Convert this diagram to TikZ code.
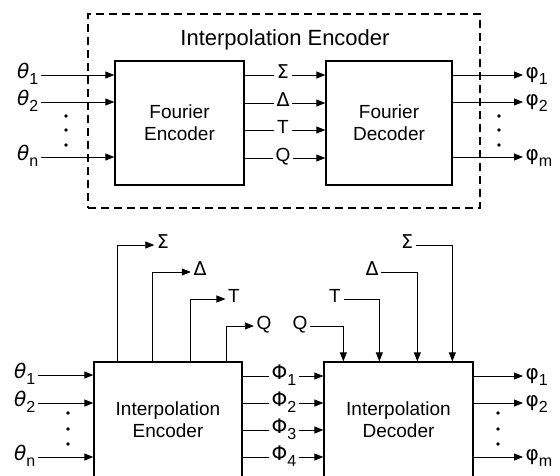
\documentclass[tikz,border=0pt]{standalone}
\usepackage{fontspec}
\setmainfont{Liberation Sans}
\newfontfamily\grk{DejaVu Sans}
\usetikzlibrary{arrows.meta,positioning,calc}
% Greek letter (slanted or upright) with a sans subscript
\newcommand{\gsl}[2]{{\grk\itshape #1}\raisebox{-0.3em}{\fontsize{16}{16}\selectfont #2}}
\newcommand{\gup}[2]{{\grk #1}\raisebox{-0.3em}{\fontsize{16}{16}\selectfont #2}}

\begin{document}
\begin{tikzpicture}[
  x=1pt, y=-1pt,
  every node/.style={font=\fontsize{19}{22}\selectfont},
  block/.style={draw, line width=1.3pt, align=center, inner sep=0pt},
  sig/.style={text height=0.7em, text depth=0pt, inner sep=2.5pt},
  big/.style={font=\fontsize{20}{24}\selectfont},
  arrow/.style={-{Triangle[length=9pt,width=7pt]}, line width=0.8pt},
  wire/.style={line width=0.8pt}
]
  \clip (0,0) rectangle (560,475);
  % upper diagram
  \node[draw, line width=1.1pt, dash pattern=on 8pt off 5pt, minimum width=392pt, minimum height=194pt, inner sep=0pt] (frame) at (284,111) {};
  \node[font=\fontsize{22}{26}\selectfont] (title) at (285,40) {Interpolation Encoder};
  \node[block, minimum width=129pt, minimum height=124pt] (fenc) at (179.5,123) {Fourier\\Encoder};
  \node[block, minimum width=126pt, minimum height=124pt] (fdec) at (389,123) {Fourier\\Decoder};
  \node[sig, big, anchor=east] (th1) at (41,75) {\gsl{θ}{1}};
  \node[sig, big, anchor=east] (th2) at (41,102) {\gsl{θ}{2}};
  \node[sig, big, anchor=east] (thn) at (41,157) {\gsl{θ}{n}};
  \foreach \t in {th1,th2,thn} \draw[arrow] (\t) -- (\t -| fenc.west);
  \node[sig] (sg) at (283,75) {\grk Σ};
  \node[sig] (dl) at (283,103) {\grk Δ};
  \node[sig] (tt) at (283,130) {T};
  \node[sig] (qq) at (283,158) {Q};
  \foreach \s in {sg,dl,tt,qq} {
    \draw[wire] (\s -| fenc.east) -- (\s);
    \draw[arrow] (\s) -- (\s -| fdec.west);
  }
  \node[sig, big, anchor=west] (ph1) at (523,75) {\gup{φ}{1}};
  \node[sig, big, anchor=west] (ph2) at (523,102) {\gup{φ}{2}};
  \node[sig, big, anchor=west] (phm) at (523,157) {\gup{φ}{m}};
  \foreach \p in {ph1,ph2,phm} \draw[arrow] (\p -| fdec.east) -- (\p);
  \foreach \y in {116,130,145} {
    \fill (66,\y) circle (1.8pt);
    \fill (499,\y) circle (1.8pt);
  }

  % lower diagram
  \node[block, minimum width=148pt, minimum height=116pt] (ienc) at (168,420) {Interpolation\\Encoder};
  \node[block, minimum width=149pt, minimum height=116pt] (idec) at (398.5,420) {Interpolation\\Decoder};
  \node[sig, big, anchor=east] (bth1) at (38,375) {\gsl{θ}{1}};
  \node[sig, big, anchor=east] (bth2) at (38,403) {\gsl{θ}{2}};
  \node[sig, big, anchor=east] (bthn) at (38,457) {\gsl{θ}{n}};
  \foreach \t in {bth1,bth2,bthn} \draw[arrow] (\t) -- (\t -| ienc.west);
  \node[sig, big] (Ph1) at (284,376) {\gup{Φ}{1}};
  \node[sig, big] (Ph2) at (284,403) {\gup{Φ}{2}};
  \node[sig, big] (Ph3) at (284,430) {\gup{Φ}{3}};
  \node[sig, big] (Ph4) at (284,457) {\gup{Φ}{4}};
  \foreach \s in {Ph1,Ph2,Ph3,Ph4} {
    \draw[wire] (\s -| ienc.east) -- (\s);
    \draw[arrow] (\s) -- (\s -| idec.west);
  }
  \node[sig, big, anchor=west] (bph1) at (523,376) {\gup{φ}{1}};
  \node[sig, big, anchor=west] (bph2) at (523,403) {\gup{φ}{2}};
  \node[sig, big, anchor=west] (bphm) at (523,457) {\gup{φ}{m}};
  \foreach \p in {bph1,bph2,bphm} \draw[arrow] (\p -| idec.east) -- (\p);
  \foreach \y in {413,429,444} {
    \fill (68,\y) circle (1.8pt);
    \fill (498,\y) circle (1.8pt);
  }
  % encoder side outputs
  \node[sig] (osg) at (163,245) {\grk Σ};
  \node[sig] (odl) at (200,272) {\grk Δ};
  \node[sig] (ott) at (234,299) {T};
  \node[sig] (oqq) at (264,326) {Q};
  \draw[arrow] ([xshift=24pt]ienc.north west) |- (osg);
  \draw[arrow] ([xshift=59pt]ienc.north west) |- (odl);
  \draw[arrow] ([xshift=97pt]ienc.north west) |- (ott);
  \draw[arrow] ([xshift=133pt]ienc.north west) |- (oqq);
  % decoder side inputs
  \node[sig] (iqq) at (300,326) {Q};
  \node[sig] (itt) at (335,299) {T};
  \node[sig] (idl) at (372,272) {\grk Δ};
  \node[sig] (isg) at (407,245) {\grk Σ};
  \draw[arrow] (iqq) -| ([xshift=20pt]idec.north west);
  \draw[arrow] (itt) -| ([xshift=56pt]idec.north west);
  \draw[arrow] (idl) -| ([xshift=94pt]idec.north west);
  \draw[arrow] (isg) -| ([xshift=129pt]idec.north west);
\end{tikzpicture}
\end{document}
